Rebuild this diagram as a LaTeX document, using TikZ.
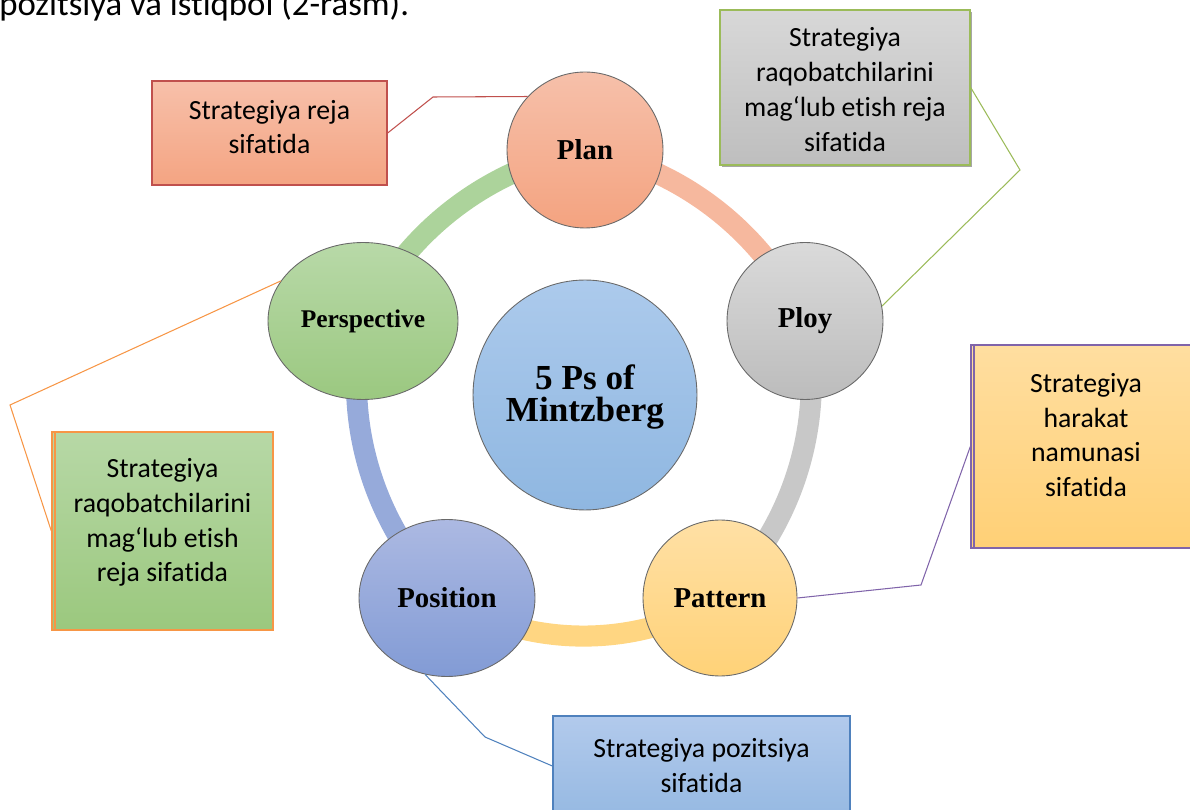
\documentclass[tikz,border=0pt]{standalone}
\usepackage{fontspec}
\setmainfont{Liberation Serif}
\newfontfamily\calfont[Ligatures=NoCommon]{Carlito}
\usetikzlibrary{shapes.geometric}
\definecolor{planT}{RGB}{246,192,170}
\definecolor{planB}{RGB}{244,163,128}
\definecolor{ployT}{RGB}{218,218,218}
\definecolor{ployB}{RGB}{188,188,188}
\definecolor{patT}{RGB}{255,224,165}
\definecolor{patB}{RGB}{255,210,120}
\definecolor{posT}{RGB}{172,185,226}
\definecolor{posB}{RGB}{130,155,213}
\definecolor{perT}{RGB}{184,217,168}
\definecolor{perB}{RGB}{155,200,128}
\definecolor{cenT}{RGB}{172,202,236}
\definecolor{cenB}{RGB}{143,183,225}
\definecolor{ringsal}{RGB}{246,184,158}
\definecolor{ringgrey}{RGB}{200,200,200}
\definecolor{ringyel}{RGB}{255,214,130}
\definecolor{ringblue}{RGB}{150,170,218}
\definecolor{ringgreen}{RGB}{172,211,155}
\definecolor{lred}{RGB}{192,80,77}
\definecolor{lgreen}{RGB}{155,187,89}
\definecolor{lpurple}{RGB}{128,100,170}
\definecolor{lorange}{RGB}{247,150,70}
\definecolor{lblue}{RGB}{79,129,189}
\definecolor{b1T}{RGB}{247,192,170}
\definecolor{b1B}{RGB}{244,164,130}
\definecolor{b2T}{RGB}{216,216,216}
\definecolor{b2B}{RGB}{190,190,190}
\definecolor{b3T}{RGB}{255,222,160}
\definecolor{b3B}{RGB}{255,208,118}
\definecolor{b4T}{RGB}{183,216,166}
\definecolor{b4B}{RGB}{155,200,126}
\definecolor{b5T}{RGB}{178,202,236}
\definecolor{b5B}{RGB}{150,185,226}
\definecolor{circB}{RGB}{105,105,105}
\begin{document}
\begin{tikzpicture}[x=0.02cm,y=0.02cm,
  ring/.style={line width=12pt, looseness=0.9},
  pnode/.style={ellipse, draw=circB, line width=0.5pt, inner sep=0pt,
     font=\fontsize{16.4}{18}\selectfont\bfseries},
  cbox/.style={rectangle, line width=0.8pt, inner sep=0pt},
  ctext/.style={inner sep=0pt, align=center,
     font=\calfont\fontsize{15.8}{19.8}\selectfont},
  conn/.style={line width=0.6pt}]
\useasboundingbox (0,0) rectangle (1190,-810);
\clip (0,0) rectangle (1190,-810);

\node[anchor=base west, inner sep=0pt, font=\calfont\fontsize{19.8}{22}\selectfont] (top) at (-1,-16) {pozitsiya va istiqbol (2-rasm).};

\coordinate (cplan) at (585,-150);
\coordinate (cploy) at (805,-321);
\coordinate (cpat) at (720,-598);
\coordinate (cpos) at (447,-598);
\coordinate (cper) at (363,-321);

\draw[ring, draw=ringgreen] (cper) to[bend left=27] (cplan);
\draw[ring, draw=ringsal] (cplan) to[bend left=27] (cploy);
\draw[ring, draw=ringgrey] (cploy) to[bend left=29] (cpat);
\draw[ring, draw=ringyel] (cpat) to[bend left=32] (cpos);
\draw[ring, draw=ringblue] (cpos) to[bend left=29] (cper);

\node[pnode, top color=planT, bottom color=planB, minimum width=3.12cm, minimum height=3.12cm] (plan) at (cplan) {Plan};
\node[pnode, top color=ployT, bottom color=ployB, minimum width=3.12cm, minimum height=3.14cm] (ploy) at (cploy) {Ploy};
\node[pnode, top color=patT, bottom color=patB, minimum width=3.08cm, minimum height=3.12cm] (pattern) at (cpat) {Pattern};
\node[pnode, top color=posT, bottom color=posB, minimum width=3.52cm, minimum height=3.14cm] (position) at (cpos) {Position};
\node[pnode, top color=perT, bottom color=perB, minimum width=3.8cm, minimum height=3.14cm, font=\fontsize{14.5}{16}\selectfont\bfseries] (perspective) at (cper) {Perspective};
\node[pnode, top color=cenT, bottom color=cenB, minimum width=4.48cm, minimum height=4.6cm] (center) at (585,-395) {};
\node[inner sep=0pt, align=center, font=\fontsize{20}{18.5}\selectfont\bfseries] (centert) at (585,-397) {5 Ps of\\Mintzberg};

\node[cbox, draw=lred, top color=b1T, bottom color=b1B, minimum width=4.7cm, minimum height=2.08cm] (b1) at (269.5,-133) {};
\node[ctext] (t1) at (269.5,-127) {Strategiya reja\\sifatida};
\fill[black!35] (722,-12) rectangle (972,-167);
\node[cbox, draw=lgreen, top color=b2T, bottom color=b2B, minimum width=5cm, minimum height=3.1cm] (b2) at (845,-87.5) {};
\node[ctext] (t2) at (845,-89.5) {Strategiya\\raqobatchilarini\\mag‘lub etish reja\\sifatida};
\node[cbox, draw=lpurple, top color=b3T, bottom color=b3B, minimum width=4.6cm, minimum height=4.06cm] (b3) at (1086,-446.5) {};
\node[ctext] (t3) at (1086,-435) {Strategiya\\harakat\\namunasi\\sifatida};
\draw[lpurple, line width=0.6pt] (974,-345) -- (974,-548);
\node[cbox, draw=lorange, top color=b4T, bottom color=b4B, minimum width=4.42cm, minimum height=3.96cm] (b4) at (162.5,-531) {};
\node[ctext] (t4) at (162.5,-522.5) {Strategiya\\raqobatchilarini\\mag‘lub etish\\reja sifatida};
\draw[lorange, line width=0.6pt] (55,-432) -- (55,-630);
\node[cbox, draw=lblue, top color=b5T, bottom color=b5B, minimum width=5.94cm, minimum height=2cm] (b5) at (701.5,-766) {};
\node[ctext] (t5) at (701.5,-765.5) {Strategiya pozitsiya\\sifatida};

\coordinate (k1) at (433,-97);
\coordinate (k2) at (1020,-170);
\coordinate (k3) at (921,-585);
\coordinate (k4) at (10,-405);
\coordinate (k5) at (485,-737);

\draw[conn, lred] (b1.east) -- (k1) -- (plan.137);
\draw[conn, lgreen] (b2.east) -- (k2) -- (ploy.11);
\draw[conn, lpurple] (pattern.east) -- (k3) -- (b3.west);
\draw[conn, lorange] (perspective.154) -- (k4) -- (b4.west);
\draw[conn, lblue] (position.-106) -- (k5) -- (b5.west);
\end{tikzpicture}
\end{document}
